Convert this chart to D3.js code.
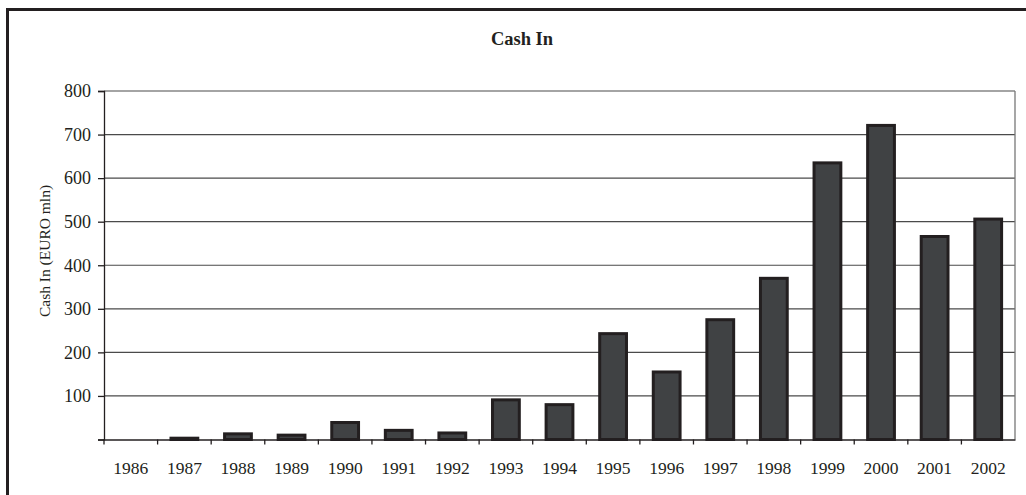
<!DOCTYPE html>
<html>
<head>
<meta charset="UTF-8">
<title>Cash In</title>
<script src="https://cdn.jsdelivr.net/npm/d3@7/dist/d3.min.js"></script>
<style>
  body { margin: 0; background: #fff; }
  svg text { font-family: "Liberation Serif", "DejaVu Serif", serif; fill: #231f20; }
</style>
</head>
<body>
<div id="chart"></div>
<script>
// values (EURO mln)
var years = ["1986", "1987", "1988", "1989", "1990", "1991", "1992", "1993", "1994",
             "1995", "1996", "1997", "1998", "1999", "2000", "2001", "2002"];
var cashIn = [0, 3, 13, 10, 39, 21, 15, 91, 80, 243, 155, 275, 370, 635, 721, 466, 506];
var yTicks = [100, 200, 300, 400, 500, 600, 700, 800];

var width = 1026, height = 495;
var plot = { left: 104, right: 1015, top: 91, bottom: 439.5 };

var svg = d3.select("#chart").append("svg")
  .attr("width", width)
  .attr("height", height);

// outer frame, only top and left edges show inside the window
svg.append("rect")
  .attr("x", 7.5).attr("y", 9.5)
  .attr("width", 1040).attr("height", 520)
  .attr("fill", "none")
  .attr("stroke", "#231f20")
  .attr("stroke-width", 3);

svg.append("text")
  .attr("x", 522).attr("y", 45)
  .attr("text-anchor", "middle")
  .style("font-size", "18.5px")
  .style("font-weight", "bold")
  .text("Cash In");

var x = d3.scaleBand()
  .domain(years)
  .range([plot.left, plot.right])
  .padding(0);

var y = d3.scaleLinear()
  .domain([0, 800])
  .range([plot.bottom, plot.top]);

// grid lines
svg.append("g")
  .selectAll("line")
  .data(yTicks)
  .enter().append("line")
  .attr("x1", plot.left).attr("x2", plot.right)
  .attr("y1", function(d) { return y(d); })
  .attr("y2", function(d) { return y(d); })
  .attr("stroke", "#4a4a4a")
  .attr("stroke-width", 1.2);

// right edge of plot area
svg.append("line")
  .attr("x1", plot.right).attr("x2", plot.right)
  .attr("y1", plot.top).attr("y2", plot.bottom)
  .attr("stroke", "#777")
  .attr("stroke-width", 1.3);

// bars
var barW = x.bandwidth() * 0.5;
svg.append("g")
  .selectAll("rect")
  .data(cashIn)
  .enter().append("rect")
  .attr("x", function(d, i) { return x(years[i]) + (x.bandwidth() - barW) / 2; })
  .attr("y", function(d) { return y(d); })
  .attr("width", barW)
  .attr("height", function(d) { return plot.bottom - y(d); })
  .attr("fill", function(d) { return d > 0 ? "#404244" : "none"; })
  .attr("stroke", function(d) { return d > 0 ? "#231f20" : "none"; })
  .attr("stroke-width", 3);

// y axis
var yAxis = d3.axisLeft(y)
  .tickValues([0].concat(yTicks))
  .tickSize(6)
  .tickPadding(7)
  .tickFormat(function(d) { return d === 0 ? "" : d; });

var gy = svg.append("g")
  .attr("transform", "translate(" + plot.left + ",0)")
  .call(yAxis);
gy.selectAll("path, line").attr("stroke", "#231f20").attr("stroke-width", 1.3);
gy.selectAll("text").style("font-size", "18px").style("font-family", "Liberation Serif");

// x axis, ticks sit on the category boundaries
var gx = svg.append("g")
  .attr("transform", "translate(0," + plot.bottom + ")")
  .call(d3.axisBottom(x).tickSize(0).tickPadding(22));
gx.select(".domain").attr("stroke", "#231f20").attr("stroke-width", 1.3);
gx.selectAll("text").style("font-size", "17.5px").style("font-family", "Liberation Serif");

gx.selectAll(".boundary")
  .data(years)
  .enter().append("line")
  .attr("class", "boundary")
  .attr("x1", function(d) { return x(d); })
  .attr("x2", function(d) { return x(d); })
  .attr("y1", 0).attr("y2", 5)
  .attr("stroke", "#231f20")
  .attr("stroke-width", 1.3);

// y axis title
svg.append("text")
  .attr("transform", "translate(50,251) rotate(-90)")
  .attr("text-anchor", "middle")
  .style("font-size", "15.5px")
  .text("Cash In (EURO mln)");
</script>
</body>
</html>
